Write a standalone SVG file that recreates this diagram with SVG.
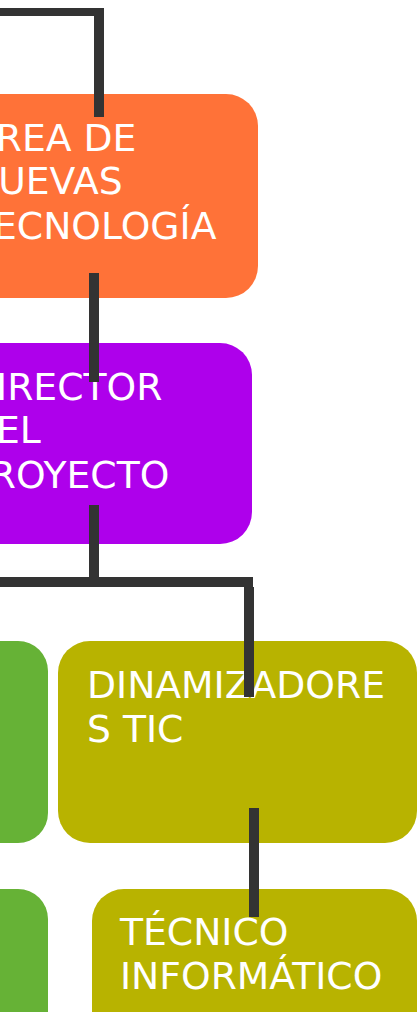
<svg xmlns="http://www.w3.org/2000/svg" width="420" height="1012" viewBox="0 0 420 1012">
<style>
.t{font-family:"DejaVu Sans",Verdana,sans-serif;font-size:37.7px;fill:#ffffff}
.c{fill:#333333}
</style>
<rect width="420" height="1012" fill="#ffffff"/>
<g id="area-nuevas-tecnologias">
<rect x="-60" y="94" width="318" height="204" rx="32" fill="#FF7238"/>
<text class="t"><tspan x="-30" y="151">ÁREA DE</tspan><tspan x="-30" y="194">NUEVAS</tspan><tspan x="-30" y="239">TECNOLOGÍA</tspan></text>
</g>
<g id="director-proyecto">
<rect x="-62" y="343" width="314" height="201" rx="32" fill="#AE00EB"/>
<text class="t"><tspan x="-33" y="400">DIRECTOR</tspan><tspan x="-33" y="443">DEL</tspan><tspan x="-33" y="488">PROYECTO</tspan></text>
</g>
<g id="nodo-verde-1">
<rect x="-200" y="641" width="248" height="202" rx="30" fill="#66B236"/>
</g>
<g id="dinamizadores-tic">
<rect x="58" y="641" width="359" height="202" rx="32" fill="#B8B300"/>
<text class="t"><tspan x="87" y="698">DINAMIZADORE</tspan><tspan x="87" y="742">S TIC</tspan></text>
</g>
<g id="nodo-verde-2">
<rect x="-200" y="889" width="248" height="202" rx="30" fill="#66B236"/>
</g>
<g id="tecnico-informatico">
<rect x="92" y="889" width="325" height="202" rx="32" fill="#B8B300"/>
<text class="t"><tspan x="120" y="945">TÉCNICO</tspan><tspan x="120" y="989">INFORMÁTICO</tspan></text>
</g>
<g id="connectors">
<rect class="c" x="-10" y="8" width="114" height="8"/>
<rect class="c" x="94" y="8" width="10" height="109"/>
<rect class="c" x="89" y="273" width="10" height="109"/>
<rect class="c" x="89" y="505" width="10" height="82"/>
<rect class="c" x="-10" y="577" width="263" height="10"/>
<rect class="c" x="244" y="587" width="10" height="110"/>
<rect class="c" x="249" y="808" width="10" height="109"/>
</g>
</svg>
